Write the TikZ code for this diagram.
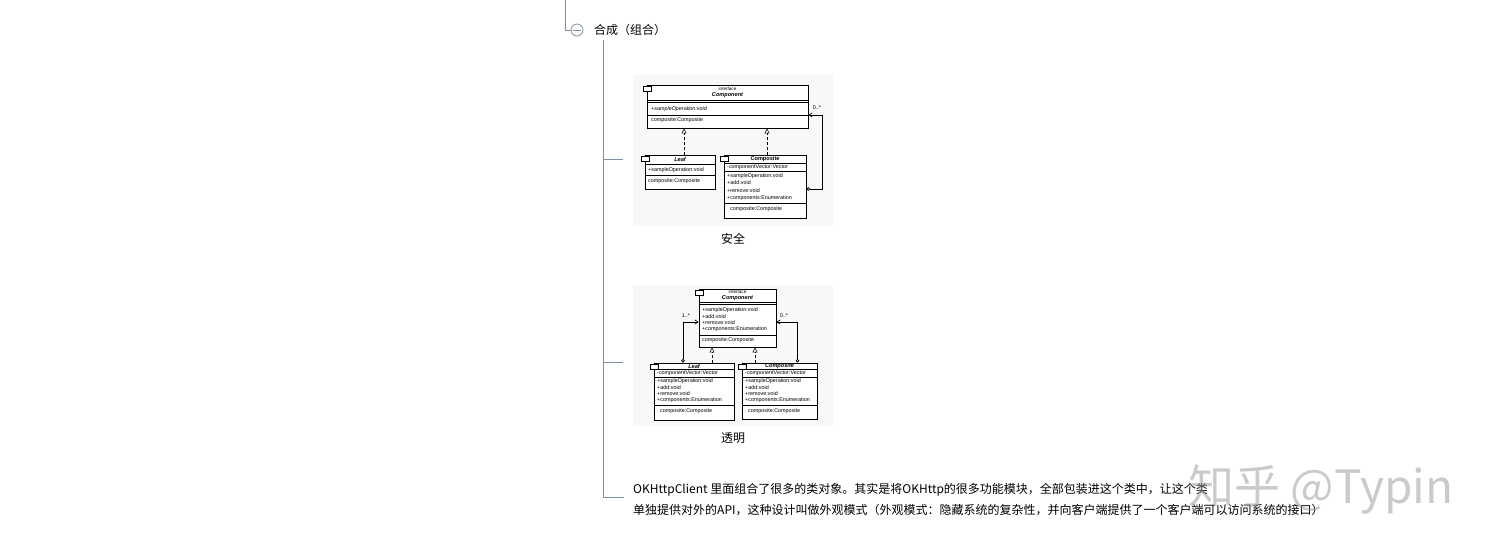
\documentclass[tikz,border=0pt]{standalone}
\usepackage{fontspec}
\newfontfamily\cjk{Noto Sans CJK SC}
\newfontfamily\umlfont{Liberation Sans}
\usetikzlibrary{arrows.meta,shadows,calc}
\definecolor{treeline}{RGB}{128,142,162}
\definecolor{picbg}{RGB}{248,248,248}
\definecolor{markgray}{RGB}{150,150,150}

\begin{document}
\begin{tikzpicture}
    [
        x=1pt, y=-1pt,
        topic/.style={font=\cjk\fontsize{12}{14}\selectfont, anchor=west, inner sep=0pt},
        caption/.style={font=\cjk\fontsize{12}{14}\selectfont, inner sep=0pt},
        branch/.style={draw=treeline, line width=0.9pt},
        umlbox/.style={draw, fill=white, line width=0.9pt, inner sep=0pt,
            drop shadow={shadow xshift=1.4pt, shadow yshift=-1.4pt, opacity=1, fill=black}},
        umlicon/.style={draw, fill=white, line width=0.6pt},
        umltxt/.style={font=\umlfont\fontsize{5.4}{6}\selectfont, inner sep=0pt, anchor=west},
        umllbl/.style={font=\umlfont\fontsize{5.4}{6}\selectfont, inner sep=0pt},
        umlhead/.style={font=\umlfont\bfseries\itshape\fontsize{5.6}{6}\selectfont, inner sep=0pt},
        gen/.style={-{Triangle[open, length=5pt, width=5pt]}, densely dashed, line width=0.5pt},
        assoc/.style={{Circle[open, length=3.5pt]}-{Straight Barb[length=3pt, width=4pt]}, line width=0.7pt},
    ]
    \useasboundingbox (0,0) rectangle (1490,556);

    % mind map branch
    \coordinate (Top) at (565,0);
    \node[circle, draw=treeline, line width=0.8pt, minimum size=12pt, inner sep=0pt] (Fold) at (577,30) {};
    \draw[treeline, line width=0.8pt] ($(Fold.center)+(-4,0)$) -- ($(Fold.center)+(4,0)$);
    \draw[branch] (Top) |- (Fold.west);
    \node[topic] (Title) at (594,30) {合成（组合）};
    \coordinate (Trunk) at (603,40);
    \coordinate (Br1) at (623,159);
    \coordinate (Br2) at (623,362);
    \coordinate (Br3) at (624,497);
    \draw[branch] (Trunk) |- (Br3);
    \draw[branch] (Trunk |- Br1) -- (Br1);
    \draw[branch] (Trunk |- Br2) -- (Br2);

    % first picture: safe composite
    \fill[picbg] (633,75) rectangle (833,226);
    \node[umlbox, minimum width=161pt, minimum height=43pt] (Comp1) at (727.5,106.5) {};
    \node[umlbox, minimum width=70pt, minimum height=34pt] (Leaf1) at (680,172) {};
    \node[umlbox, minimum width=82pt, minimum height=63pt] (Compo1) at (765,186.5) {};
    \node[umllbl, font=\umlfont\fontsize{4.6}{5}\selectfont] (Comp1-if) at (727.5,89) {interface};
    \node[umlhead] (Comp1-name) at (727.5,95.5) {Component};
    \foreach \y in {100,102,115} \draw[line width=0.5pt] (647,\y) -- (808,\y);
    \node[umltxt, font=\umlfont\itshape\fontsize{5.4}{6}\selectfont] (Comp1-op) at (651,109) {+sampleOperation:void};
    \node[umltxt] (Comp1-attr) at (651,120) {composite:Composite};
    \node[umlhead] (Leaf1-name) at (680,159) {Leaf};
    \foreach \y in {164,175} \draw[line width=0.5pt] (645,\y) -- (715,\y);
    \node[umltxt] (Leaf1-op) at (648,170) {+sampleOperation:void};
    \node[umltxt] (Leaf1-attr) at (648,181) {composite:Composite};
    \node[umlhead, font=\umlfont\bfseries\fontsize{5.6}{6}\selectfont] (Compo1-name) at (765,159) {Composite};
    \foreach \y in {163,171,203} \draw[line width=0.5pt] (724,\y) -- (806,\y);
    \node[umltxt] (Compo1-vec) at (727,167.5) {-componentVector:Vector};
    \foreach \y/\t in {176/+sampleOperation:void, 183/+add:void, 190.5/+remove:void, 198/+components:Enumeration}
        \node[umltxt] (Compo1-\y) at (727,\y) {\t};
    \node[umltxt] (Compo1-attr) at (730,209) {composite:Composite};
    \coordinate (G1) at ($(Leaf1.north)+(4,0)$);
    \coordinate (G2) at ($(Compo1.north)+(2,0)$);
    \draw[gen] (G1) -- (G1 |- Comp1.south);
    \draw[gen] (G2) -- (G2 |- Comp1.south);
    \draw[assoc] ($(Compo1.east)+(0,2.5)$) -- ++(16,0) |- ($(Comp1.east)+(0,8.5)$);
    \node[umllbl] (Many1) at (817,107.5) {0..*};
    \node[caption] (Safe) at (733,239) {安全};

    % second picture: transparent composite
    \fill[picbg] (633,285) rectangle (833,426);
    \node[umlbox, minimum width=77pt, minimum height=58pt] (Comp2) at (737.5,318) {};
    \node[umlbox, minimum width=80pt, minimum height=57pt] (Leaf2) at (694,391.5) {};
    \node[umlbox, minimum width=75pt, minimum height=56pt] (Compo2) at (779.5,391) {};
    \node[umllbl, font=\umlfont\fontsize{4.6}{5}\selectfont] (Comp2-if) at (737.5,292) {interface};
    \node[umlhead] (Comp2-name) at (737.5,298) {Component};
    \foreach \y in {302,304,335} \draw[line width=0.5pt] (699,\y) -- (776,\y);
    \foreach \y/\t in {310/+sampleOperation:void, 316.5/+add:void, 323/+remove:void, 329.5/+components:Enumeration}
        \node[umltxt] (Comp2-\y) at (702,\y) {\t};
    \node[umltxt] (Comp2-attr) at (702,340) {composite:Composite};
    \node[umlhead] (Leaf2-name) at (694,366) {Leaf};
    \node[umlhead] (Compo2-name) at (779.5,366) {Composite};
    \foreach \y in {369,377,405} {
        \draw[line width=0.5pt] (654,\y) -- (734,\y);
        \draw[line width=0.5pt] (742,\y) -- (817,\y);
    }
    \node[umltxt] (Leaf2-vec) at (657,373) {-componentVector:Vector};
    \node[umltxt] (Compo2-vec) at (745,373) {-componentVector:Vector};
    \foreach \y/\t in {381/+sampleOperation:void, 387.5/+add:void, 394/+remove:void, 400.5/+components:Enumeration} {
        \node[umltxt] (Leaf2-\y) at (657,\y) {\t};
        \node[umltxt] (Compo2-\y) at (745,\y) {\t};
    }
    \node[umltxt] (Leaf2-attr) at (660,411) {composite:Composite};
    \node[umltxt] (Compo2-attr) at (748,411) {composite:Composite};
    \coordinate (G3) at ($(Leaf2.north)+(18,0)$);
    \coordinate (G4) at ($(Compo2.north)+(-24.5,0)$);
    \draw[gen] (G3) -- (G3 |- Comp2.south);
    \draw[gen] (G4) -- (G4 |- Comp2.south);
    \draw[assoc] ($(Leaf2.north)+(-11,0)$) |- ($(Comp2.west)+(0,4)$);
    \draw[assoc] ($(Compo2.north)+(18,0)$) |- ($(Comp2.east)+(0,4)$);
    \node[umllbl] (Many2) at (686,316) {1..*};
    \node[umllbl] (Many3) at (784,316) {0..*};
    \node[caption] (Clear) at (733,438) {透明};

    % class icons
    \foreach \b in {Comp1,Leaf1,Compo1,Comp2,Leaf2,Compo2}
        \draw[umlicon] ($(\b.north west)+(-3,1.5)$) rectangle ++(8,5);

    % note
    \node[topic] (Note1) at (633,490) {OKHttpClient 里面组合了很多的类对象。其实是将OKHttp的很多功能模块，全部包装进这个类中，让这个类};
    \node[topic] (Note2) at (633,510) {单独提供对外的API，这种设计叫做外观模式（外观模式：隐藏系统的复杂性，并向客户端提供了一个客户端可以访问系统的接口）};

    % watermark
    \node[font=\cjk\fontsize{46}{50}\selectfont, text=markgray, opacity=0.5, inner sep=0pt] (Mark) at (1321,490) {知乎 @Typin};
\end{tikzpicture}
\end{document}
